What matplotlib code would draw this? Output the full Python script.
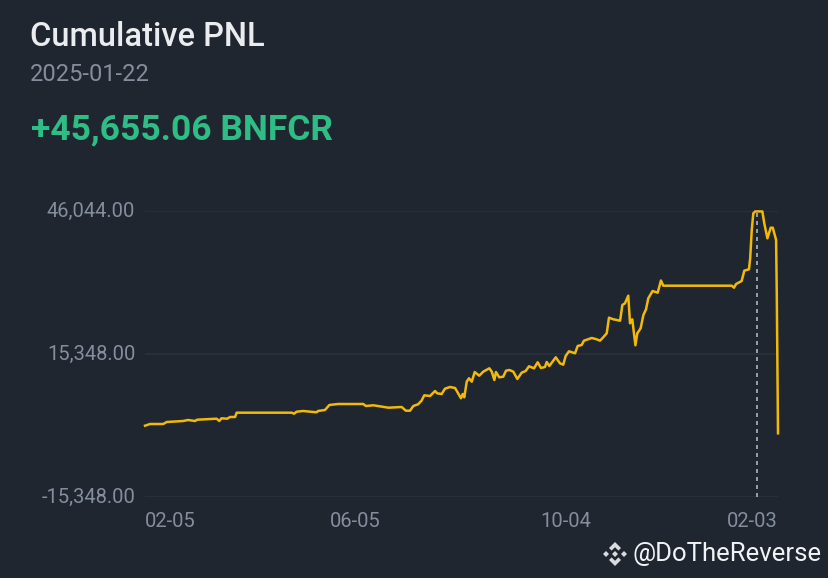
import numpy as np
import matplotlib.pyplot as plt
from matplotlib.patches import Polygon
from matplotlib.transforms import ScaledTranslation

# days since 2024-02-05 and cumulative PNL
days = [0, 2.9, 10.5, 12.5, 22, 24.7, 28.8, 30, 41.2, 42.7, 44, 47.3, 48.9, 51.8, 52.7,
        84.4, 85.7, 87.2, 90.9, 98.7, 99.5, 103.5, 106, 111, 125.5, 127, 131.3, 140, 147.6,
        150, 152.4, 154.3, 157, 159, 160.6, 163.9, 166.8, 168, 170.6, 172.5, 175.4, 178.3,
        181.7, 182.7, 183.6, 185, 186.3, 187.9, 189.6, 192.2, 194.5, 198, 199.4, 200.9,
        201.8, 203.7, 206, 207.6, 209.5, 211.8, 214.1, 216.6, 218.9, 220.8, 223.7, 225.8,
        227.7, 230, 231, 232.5, 236.2, 238.6, 240.5, 241.9, 243.8, 247.3, 248.8, 251.1,
        252.4, 256.9, 259.7, 261.6, 263, 265.5, 266.8, 269.3, 273.2, 274.5, 276, 277.9,
        278.9, 280.2, 282, 283.1, 285, 286.6, 288.1, 289.4, 291.9, 294.8, 296.7, 298,
        337.4, 338.7, 339.9, 343.1, 344.6, 347.3, 348, 348.9, 349.8, 350.9, 355, 356.1,
        357.9, 359.8, 361, 362.9, 363.3, 364]
pnl = [-43, 322, 322, 751, 966, 1180, 966, 1245, 1460, 966, 1545, 1460, 1824, 1824, 2748,
       2748, 2533, 2962, 3112, 2833, 3112, 3327, 4400, 4615, 4615, 4186, 4336, 3821, 3971,
       3177, 3177, 4186, 4551, 5323, 6483, 6332, 7406, 6912, 6762, 7899, 8264, 8050,
       5839, 6762, 6053, 9402, 10132, 9402, 11484, 10690, 11549, 12278, 11549, 9767,
       11484, 10346, 10475, 11763, 11913, 11549, 9982, 11334, 11699, 12708, 12278, 13566,
       12343, 12557, 13631, 12772, 14640, 13352, 13051, 14919, 15928, 15498, 17065, 17280,
       18203, 18783, 18504, 18203, 18718, 19791, 23140, 22797, 22496, 25866, 26231, 27863,
       21938, 22797, 17216, 19791, 20865, 23720, 24943, 27305, 28872, 28507, 31126, 30009,
       30009, 29580, 30374, 31018, 33229, 33530, 35891, 41966, 45551, 45950, 45950, 43404,
       40184, 42460, 42460, 39819, 28013, -1675]

y_ticks = [-15348, 15348, 46044]
y_labels = ['-15,348.00', '15,348.00', '46,044.00']
x_ticks = [0, 121, 242, 364]
x_labels = ['02-05', '06-05', '10-04', '02-03']
x_aligns = ['left', 'center', 'center', 'right']
marker_day = 352

title = 'Cumulative PNL'
date_text = '2025-01-22'
pnl_text = '+45,655.06 BNFCR'
watermark = '@DoTheReverse'

BG = '#1f2630'
GRID = '#2b323d'
MUTED = '#848e9c'
W, H = 828, 578

plt.rcParams['font.family'] = ['Roboto', 'DejaVu Sans']

fig = plt.figure(figsize=((W + 0.01) / 100, (H + 0.01) / 100), dpi=100, facecolor=BG)
ax = fig.add_axes([145 / W, (H - 497) / H, (778 - 145) / W, (497 - 211) / H], facecolor=BG)

ax.plot(days, pnl, color='#f0b90b', lw=1.8, solid_joinstyle='round', clip_on=False, zorder=3)
ax.axvline(marker_day, ymax=1, color='#aeb4bc', lw=1.2, ls=(0, (2.4, 2.4)), zorder=2)

ax.set_xlim(0, 364)
ax.set_ylim(-15348, 46044)
for s in ax.spines.values():
    s.set_visible(False)
ax.set_yticks(y_ticks)
ax.set_yticklabels(y_labels, fontsize=14.5, color=MUTED)
ax.set_xticks(x_ticks)
ax.set_xticklabels(x_labels, fontsize=14.5, color=MUTED)
for lab, a in zip(ax.get_xticklabels(), x_aligns):
    lab.set_ha(a)
ax.tick_params(axis='both', length=0)
ax.tick_params(axis='x', pad=11)
ax.tick_params(axis='y', pad=7)
# y labels sit a little above their grid lines
up = ScaledTranslation(0, 2 / 100, fig.dpi_scale_trans)
for lab in ax.get_yticklabels():
    lab.set_transform(lab.get_transform() + up)
ax.grid(axis='y', color=GRID, lw=1.2, zorder=1)
ax.set_axisbelow(True)

# overlay in pixel coordinates for the header, watermark and logo
ov = fig.add_axes([0, 0, 1, 1], facecolor='none')
ov.set_xlim(0, W)
ov.set_ylim(H, 0)
ov.axis('off')
ov.text(30, 37, title, fontsize=23.5, color='#eaecef', fontweight=500, va='center')
ov.text(30, 74, date_text, fontsize=17, color=MUTED, va='center')
ov.text(31, 130, pnl_text, fontsize=25.5, color='#2ebd85', fontweight='bold', va='center')
ov.text(632, 554, watermark, fontsize=18.5, color='#f2f3f5', va='center')

# Binance logo
lx, ly = 615, 554
logo = [
    [(-6, -6), (0, -12), (6, -6), (3.4, -3.4), (0, -6.8), (-3.4, -3.4)],
    [(-6, 6), (0, 12), (6, 6), (3.4, 3.4), (0, 6.8), (-3.4, 3.4)],
    [(-12, 0), (-9, -3), (-6, 0), (-9, 3)],
    [(12, 0), (9, -3), (6, 0), (9, 3)],
    [(0, -3), (3, 0), (0, 3), (-3, 0)],
]
for p in logo:
    ov.add_patch(Polygon([(lx + a, ly + b) for a, b in p], closed=True, fc='#d9dbde', ec='none'))

fig.savefig('out.png', dpi=100, facecolor=BG)
